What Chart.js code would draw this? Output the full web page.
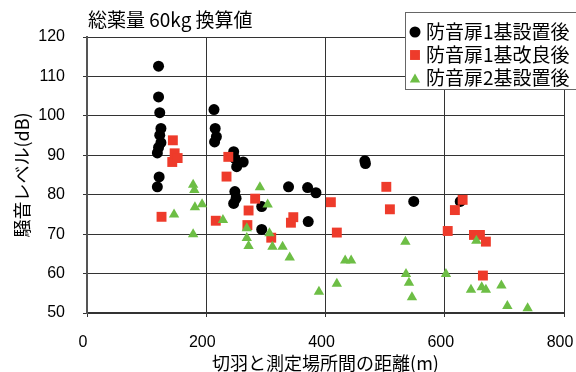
<!DOCTYPE html>
<html>
<head>
<meta charset="utf-8">
<script src="https://cdn.jsdelivr.net/npm/chart.js@4.4.0/dist/chart.umd.min.js"></script>
<style>
html, body { margin: 0; padding: 0; background: #fff; }
</style>
</head>
<body>
<canvas id="chart" width="576" height="372"></canvas>
<script>
"use strict"

// 防音扉1基設置後
let distAfter1 = [120,120,122,124,122,124,120,118,121,118, 213,215,217,214, 246,248,262,251, 248,250,246, 293,293, 338,370,384,371, 466,467, 548,626];
let levelAfter1 = [112.6,104.8,100.8,96.8,95.1,93.2,92.0,90.6,84.5,82.0, 101.6,96.8,94.7,93.4, 90.9,89.2,88.3,87.1, 80.8,79.1,77.8, 77.0,71.2, 82.0,81.8,80.5,73.2, 88.6,87.9, 78.3,78.3];

// 防音扉1基改良後
let distImproved = [125,144,143,147,152,216,237,234,269,271,282,309,342,346,409,419,502,508,605,617,630,649,659,669,664];
let levelImproved = [74.4,93.8,88.3,90.5,89.3,73.4,89.6,84.6,72.3,76.0,79.0,69.1,72.9,74.3,78.1,70.4,82.0,76.3,70.8,76.1,78.7,69.8,69.8,68.1,59.5];

// 防音扉2基設置後
let distAfter2 = [146,178,180,181,193,178,228,268,268,271,290,303,306,311,328,340,389,419,433,443,534,535,540,545,602,644,653,662,669,695,705,739];
let levelAfter2 = [75.0,82.5,81.2,76.8,77.6,70.0,73.6,71.5,69.0,67.0,81.9,77.5,70.2,66.8,66.8,64.1,55.4,57.4,63.3,63.3,68.1,59.9,57.7,54.0,59.9,55.9,68.3,56.5,55.9,57.0,51.8,51.2];

let seriesNames = ['防音扉1基設置後', '防音扉1基改良後', '防音扉2基設置後'];
let titleText = '総薬量 60kg 換算値';
let xTitle = '切羽と測定場所間の距離(m)';
let yTitle = '騒音レベル(dB)';

function toPoints(xs, ys) {
    let pts = [];
    for (let i = 0; i < xs.length; i++) {
        pts.push({x: xs[i], y: ys[i]});
    }
    return pts;
}

const FONT = '"Liberation Sans", Arial, "Noto Sans CJK JP", sans-serif';
const CJK = '"Noto Sans CJK JP", sans-serif';
Chart.defaults.font.family = FONT;
Chart.defaults.color = '#000';

// title and legend box drawn on top
let overlay = {
    id: 'overlay',
    afterDraw(chart) {
        let ctx = chart.ctx;
        ctx.save();
        ctx.fillStyle = '#000';
        ctx.font = '19px ' + CJK;
        ctx.textBaseline = 'middle';
        ctx.fillText(titleText, 88, 20);

        // legend
        ctx.fillStyle = '#fff';
        ctx.fillRect(405, 12, 180, 77);
        ctx.strokeStyle = '#666';
        ctx.lineWidth = 1;
        ctx.strokeRect(405.5, 12.5, 180, 77);
        let rowY = [32, 55, 78];
        chart.data.datasets.forEach(function(ds, i) {
            ctx.fillStyle = ds.backgroundColor;
            ctx.strokeStyle = ds.backgroundColor;
            Chart.helpers.drawPoint(ctx, {
                pointStyle: ds.pointStyle,
                radius: ds.pointRadius,
                borderWidth: 0
            }, 415, rowY[i] + (ds.pointStyle == 'triangle' ? 1.5 : 0));
            ctx.fillStyle = '#000';
            ctx.font = '19px ' + CJK;
            ctx.fillText(ds.label, 426, rowY[i]);
        });
        ctx.restore();
    }
};

let ctx = document.getElementById('chart').getContext('2d');
let myChart = new Chart(ctx, {
    type: 'scatter',
    data: {
        datasets: [{
            label: seriesNames[0],
            data: toPoints(distAfter1, levelAfter1),
            pointStyle: 'circle',
            pointRadius: 5.5,
            backgroundColor: '#000000',
            borderWidth: 0,
            order: 3
        }, {
            label: seriesNames[1],
            data: toPoints(distImproved, levelImproved),
            pointStyle: 'rect',
            pointRadius: 7,
            backgroundColor: '#EE3B2B',
            borderWidth: 0,
            order: 2
        }, {
            label: seriesNames[2],
            data: toPoints(distAfter2, levelAfter2),
            pointStyle: 'triangle',
            pointRadius: 6,
            backgroundColor: '#6DBE45',
            borderWidth: 0,
            order: 1
        }]
    },
    options: {
        responsive: false,
        animation: false,
        layout: { padding: { top: 37, right: 12, left: 0, bottom: 0 } },
        plugins: {
            legend: { display: false },
            title: { display: false },
            tooltip: { enabled: false }
        },
        scales: {
            x: {
                type: 'linear',
                min: 0,
                max: 800,
                ticks: { stepSize: 200, padding: 16, labelOffset: -4, font: { size: 16 }, color: '#000' },
                grid: { color: '#333', lineWidth: 1, tickLength: 4, tickColor: '#333' },
                border: { color: '#333', width: 2 },
                title: { display: true, text: xTitle, font: { size: 18, family: CJK }, padding: { top: 0, bottom: -2 }, color: '#000' },
                afterFit: function(scale) {
                    scale.height = 59;
                    scale.paddingLeft = 0;
                    scale.paddingRight = 0;
                }
            },
            y: {
                min: 50,
                max: 120,
                ticks: { stepSize: 10, padding: 18, font: { size: 16 }, color: '#000' },
                grid: { color: '#333', lineWidth: 1, tickLength: 4, tickColor: '#333' },
                border: { color: '#555', width: 2 },
                title: { display: true, text: yTitle, font: { size: 18, family: CJK }, padding: { top: 11, bottom: 0 }, color: '#000' },
                afterFit: function(scale) {
                    scale.width = 87;
                    scale.paddingTop = 0;
                    scale.paddingBottom = 0;
                }
            }
        }
    },
    plugins: [overlay]
});
</script>
</body>
</html>
